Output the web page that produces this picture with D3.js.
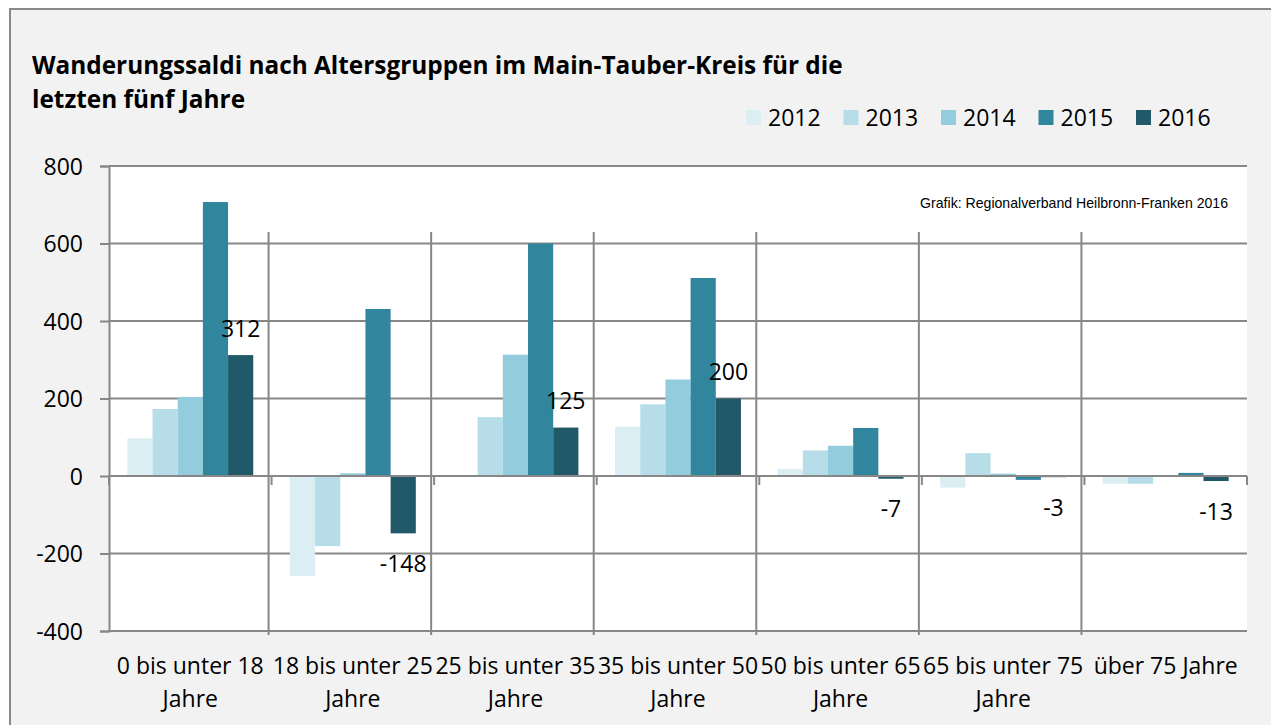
<!DOCTYPE html>
<html>
<head>
<meta charset="utf-8">
<script src="https://cdn.jsdelivr.net/npm/d3@7"></script>
<style>
  body { margin: 0; background: #fff; }
  text { font-family: "Open Sans", sans-serif; fill: #000; }
</style>
</head>
<body>
<svg id="chart" width="1271" height="725"></svg>
<script>
// Wanderungssaldi Main-Tauber-Kreis
let categories = ['0 bis unter 18 Jahre', '18 bis unter 25 Jahre', '25 bis unter 35 Jahre',
  '35 bis unter 50 Jahre', '50 bis unter 65 Jahre', '65 bis unter 75 Jahre', 'über 75 Jahre'];
let years = ['2012', '2013', '2014', '2015', '2016'];
let values2012 = [97, -258, 0, 127, 18, -30, -20];
let values2013 = [173, -181, 152, 185, 66, 59, -20];
let values2014 = [204, 7, 313, 249, 78, 6, 0];
let values2015 = [707, 431, 600, 511, 124, -10, 8];
let values2016 = [312, -148, 125, 200, -7, -3, -13];
let yTicks = [-400, -200, 0, 200, 400, 600, 800];
let colors = ['#dbeef3', '#b7dee8', '#93cddd', '#31859c', '#215968'];

let series = [values2012, values2013, values2014, values2015, values2016];

let svg = d3.select('#chart');
let plotLeft = 109, plotRight = 1247, plotTop = 166, plotBottom = 631;
let gridColor = '#878787';

// background + border
svg.append('rect')
  .attr('x', 10).attr('y', 9)
  .attr('width', 1300).attr('height', 760)
  .attr('fill', '#f2f2f2')
  .attr('stroke', '#898989')
  .attr('stroke-width', 2);

let x0 = d3.scaleBand().domain(categories).range([plotLeft, plotRight]).padding(0);
let x1 = d3.scaleBand().domain(years).range([0, x0.bandwidth()])
  .paddingInner(0).paddingOuter(0.728);
let y = d3.scaleLinear().domain([-400, 800]).range([plotBottom, plotTop]);

svg.append('rect')
  .attr('x', plotLeft).attr('y', plotTop)
  .attr('width', plotRight - plotLeft).attr('height', plotBottom - plotTop)
  .attr('fill', '#fff');

// horizontal gridlines
svg.append('g').selectAll('line')
  .data(yTicks)
  .enter()
  .append('line')
  .attr('x1', plotLeft).attr('x2', plotRight)
  .attr('y1', d => y(d)).attr('y2', d => y(d))
  .attr('stroke', gridColor)
  .attr('stroke-width', 2);

// vertical separators between age groups
svg.append('g').selectAll('line')
  .data(categories.slice(1))
  .enter()
  .append('line')
  .attr('x1', d => x0(d) - 3).attr('x2', d => x0(d) - 3)
  .attr('y1', 232).attr('y2', 635)
  .attr('stroke', gridColor)
  .attr('stroke-width', 2);

// y axis (plain hyphen for negatives, like the original)
let yAxis = d3.axisLeft(y).tickValues(yTicks).tickSize(9).tickPadding(17)
  .tickFormat(d => String(d));
let yg = svg.append('g')
  .attr('transform', 'translate(' + plotLeft + ',0)')
  .call(yAxis);
yg.select('.domain').attr('stroke', gridColor).attr('stroke-width', 2);
yg.selectAll('.tick line').attr('stroke', gridColor).attr('stroke-width', 2);
yg.selectAll('.tick text')
  .attr('font-family', '"Open Sans", sans-serif')
  .attr('font-size', '23px')
  .attr('fill', '#000')
  .attr('dy', '0.36em');

// category ticks on the zero line
let bounds = categories.map(d => x0(d)).concat([plotRight]);
svg.append('g').selectAll('line')
  .data(bounds)
  .enter()
  .append('line')
  .attr('x1', d => d).attr('x2', d => d)
  .attr('y1', y(0)).attr('y2', y(0) + 9)
  .attr('stroke', gridColor)
  .attr('stroke-width', 2);

// bars
let groups = svg.append('g').selectAll('g')
  .data(years)
  .enter()
  .append('g')
  .attr('fill', (d, i) => colors[i]);

groups.selectAll('rect')
  .data((yr, i) => series[i].map((v, j) => ({ yr: yr, cat: categories[j], v: v })))
  .enter()
  .append('rect')
  .attr('x', d => x0(d.cat) + x1(d.yr))
  .attr('width', x1.bandwidth())
  .attr('y', d => Math.min(y(d.v), y(0)))
  .attr('height', d => Math.abs(y(d.v) - y(0)));

// redraw zero line over bars
svg.append('line')
  .attr('x1', plotLeft).attr('x2', plotRight)
  .attr('y1', y(0)).attr('y2', y(0))
  .attr('stroke', gridColor)
  .attr('stroke-width', 2);

// data labels for 2016
svg.append('g').selectAll('text')
  .data(values2016)
  .enter()
  .append('text')
  .attr('x', (d, j) => x0(categories[j]) + x1('2016') + x1.bandwidth() / 2)
  .attr('y', d => d >= 0 ? y(d) - 18.5 : y(d) + 38.5)
  .attr('text-anchor', 'middle')
  .attr('font-size', '23px')
  .text(d => d);

// category labels
let catLabels = svg.append('g').selectAll('text')
  .data(categories)
  .enter()
  .append('text')
  .attr('text-anchor', 'middle')
  .attr('font-size', '23px')
  .attr('x', d => x0(d) + x0.bandwidth() / 2)
  .attr('y', 674);

catLabels.each(function (d) {
  let el = d3.select(this);
  el.text(d);
  if (this.getComputedTextLength() > 170) {
    let words = d.split(' ');
    let last = words.pop();
    el.text(null);
    el.append('tspan').attr('x', el.attr('x')).text(words.join(' '));
    el.append('tspan').attr('x', el.attr('x')).attr('dy', 32.5).text(last);
  }
});

// title
let title = svg.append('text')
  .attr('x', 32).attr('y', 73.5)
  .attr('font-weight', 'bold')
  .attr('font-size', '24px')
  .text('Wanderungssaldi nach Altersgruppen im Main-Tauber-Kreis für die');
let tw = title.node().getComputedTextLength();
let titleSize = 24 * 811 / tw;
title.attr('font-size', titleSize + 'px');
svg.append('text')
  .attr('x', 32).attr('y', 108)
  .attr('font-weight', 'bold')
  .attr('font-size', titleSize + 'px')
  .text('letzten fünf Jahre');

// legend
let legend = svg.append('g').selectAll('g')
  .data(years)
  .enter()
  .append('g')
  .attr('transform', (d, i) => 'translate(' + (746 + i * 97.5) + ',110)');
legend.append('rect')
  .attr('width', 15).attr('height', 15)
  .attr('fill', (d, i) => colors[i]);
legend.append('text')
  .attr('x', 22).attr('y', 15.5)
  .attr('font-size', '23px')
  .text(d => d);

// source note
svg.append('text')
  .attr('x', 1228).attr('y', 208)
  .attr('text-anchor', 'end')
  .style('font-family', '"Liberation Sans", Arial, sans-serif')
  .attr('font-size', '14.1px')
  .text('Grafik: Regionalverband Heilbronn-Franken 2016');
</script>
</body>
</html>
